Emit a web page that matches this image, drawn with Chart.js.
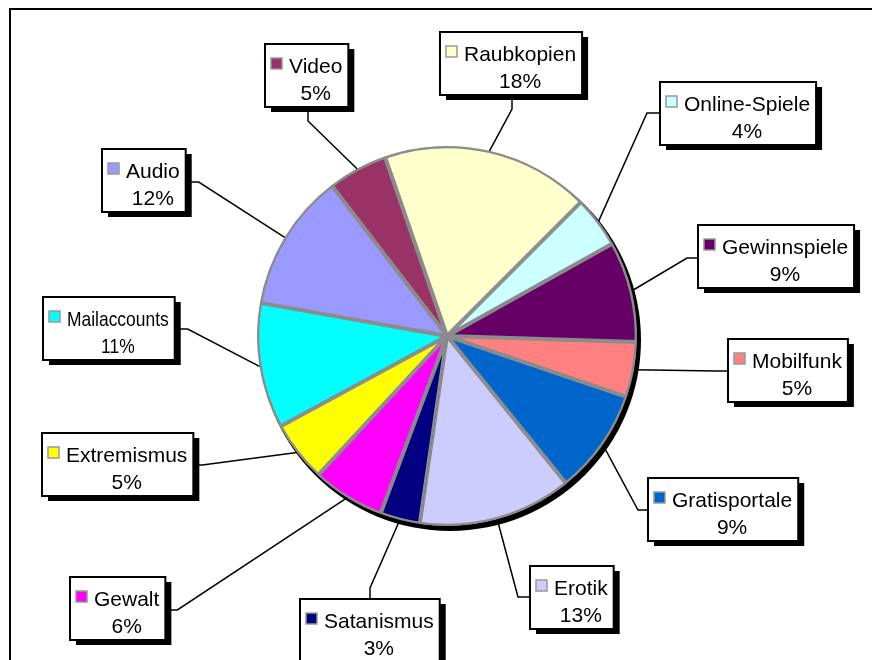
<!DOCTYPE html>
<html>
<head>
<meta charset="utf-8">
<script src="https://cdn.jsdelivr.net/npm/chart.js@4/dist/chart.umd.min.js"></script>
<style>
  html, body { margin: 0; padding: 0; background: #fff; }
  canvas { display: block; }
</style>
</head>
<body>
<canvas id="pie" width="872" height="660"></canvas>
<script>
// categories, clockwise starting at Raubkopien
const categories = ["Raubkopien", "Online-Spiele", "Gewinnspiele", "Mobilfunk", "Gratisportale", "Erotik",
    "Satanismus", "Gewalt", "Extremismus", "Mailaccounts", "Audio", "Video"];
const shares = [17.8, 4.4, 8.6, 4.7, 9.0, 13.1, 3.4, 6.2, 5.2, 10.7, 11.8, 5.1];
const sliceColors = ["#FFFFCC", "#CCFFFF", "#660066", "#FF8080", "#0066CC", "#CCCCFF",
    "#000080", "#FF00FF", "#FFFF00", "#00FFFF", "#9999FF", "#993366"];

// where the callout boxes sit (left, top), which edge the leader leaves from
const calloutLayout = [
    { left: 440, top: 32, side: "bottom", at: 72, elbow: 14 },
    { left: 660, top: 82, side: "left", at: 31, elbow: 13 },
    { left: 698, top: 225, side: "left", at: 33, elbow: 11 },
    { left: 728, top: 339, side: "left", at: 32, elbow: 11 },
    { left: 648, top: 478, side: "left", at: 32, elbow: 10 },
    { left: 530, top: 566, side: "left", at: 31, elbow: 12 },
    { left: 300, top: 599, side: "top", at: 70, elbow: 11 },
    { left: 70, top: 577, side: "right", at: 33, elbow: 12 },
    { left: 42, top: 433, side: "right", at: 32, elbow: 9 },
    { left: 43, top: 297, side: "right", at: 32, elbow: 13, squeeze: 0.83 },
    { left: 102, top: 149, side: "right", at: 33, elbow: 13 },
    { left: 265, top: 44, side: "bottom", at: 43, elbow: 14 }
];

const FONT = "21px 'Liberation Sans', Arial, sans-serif";
const BOX_H = 63;

function boxGeometry(ctx, i) {
    let lay = calloutLayout[i];
    let sq = lay.squeeze || 1;
    ctx.font = FONT;
    let tw = ctx.measureText(categories[i]).width * sq;
    let w = 24 + tw + 6;
    return { x: lay.left, y: lay.top, w: w, h: BOX_H, tw: tw, sq: sq };
}

function anchorPoints(box, lay) {
    if (lay.side === "left") {
        let y = box.y + lay.at;
        return [[box.x, y], [box.x - lay.elbow, y]];
    }
    if (lay.side === "right") {
        let y = box.y + lay.at;
        return [[box.x + box.w, y], [box.x + box.w + lay.elbow, y]];
    }
    if (lay.side === "top") {
        let x = box.x + lay.at;
        return [[x, box.y], [x, box.y - lay.elbow]];
    }
    let x = box.x + lay.at;
    return [[x, box.y + box.h], [x, box.y + box.h + lay.elbow]];
}

const pieShadow = {
    id: "pieShadow",
    beforeDatasetsDraw(chart) {
        let arc = chart.getDatasetMeta(0).data[0];
        if (!arc) return;
        let ctx = chart.ctx;
        ctx.save();
        ctx.fillStyle = "#000";
        ctx.beginPath();
        ctx.arc(arc.x + 3, arc.y + 4, arc.outerRadius + 1, 0, Math.PI * 2);
        ctx.fill();
        ctx.restore();
    }
};

const callouts = {
    id: "callouts",
    afterDraw(chart) {
        let ctx = chart.ctx;
        let meta = chart.getDatasetMeta(0);
        let total = shares.reduce((a, b) => a + b, 0);

        // outer frame
        ctx.save();
        ctx.strokeStyle = "#000";
        ctx.lineWidth = 2;
        ctx.strokeRect(10, 9, 900, 700);

        // leader lines
        ctx.lineWidth = 1.5;
        meta.data.forEach((arc, i) => {
            let mid = (arc.startAngle + arc.endAngle) / 2;
            let px = arc.x + Math.cos(mid) * arc.outerRadius;
            let py = arc.y + Math.sin(mid) * arc.outerRadius;
            let box = boxGeometry(ctx, i);
            let pts = anchorPoints(box, calloutLayout[i]);
            ctx.beginPath();
            ctx.moveTo(px, py);
            ctx.lineTo(pts[1][0], pts[1][1]);
            ctx.lineTo(pts[0][0], pts[0][1]);
            ctx.stroke();
        });

        // boxes
        meta.data.forEach((arc, i) => {
            let box = boxGeometry(ctx, i);
            ctx.fillStyle = "#000";
            ctx.fillRect(box.x + 6, box.y + 5, box.w, box.h);
            ctx.fillStyle = "#fff";
            ctx.fillRect(box.x, box.y, box.w, box.h);
            ctx.strokeStyle = "#000";
            ctx.lineWidth = 2;
            ctx.strokeRect(box.x, box.y, box.w, box.h);

            // legend key
            ctx.fillStyle = sliceColors[i];
            ctx.fillRect(box.x + 6, box.y + 14, 11, 11);
            ctx.strokeStyle = "#999";
            ctx.lineWidth = 1.5;
            ctx.strokeRect(box.x + 6, box.y + 14, 11, 11);

            // texts
            let tx = box.x + 24;
            let pct = Math.round(shares[i] / total * 100) + "%";
            ctx.fillStyle = "#000";
            ctx.font = FONT;
            ctx.textBaseline = "alphabetic";
            ctx.save();
            ctx.translate(tx, box.y + 29);
            ctx.scale(box.sq, 1);
            ctx.textAlign = "left";
            ctx.fillText(categories[i], 0, 0);
            ctx.restore();
            ctx.save();
            ctx.translate(tx + box.tw / 2, box.y + 56);
            ctx.scale(box.sq, 1);
            ctx.textAlign = "center";
            ctx.fillText(pct, 0, 0);
            ctx.restore();
        });
        ctx.restore();
    }
};

const ctx = document.getElementById("pie");
new Chart(ctx, {
    type: "pie",
    data: {
        labels: categories,
        datasets: [{
            data: shares,
            backgroundColor: sliceColors,
            borderColor: "#8c8c8c",
            borderWidth: 2,
            borderAlign: "inner"
        }]
    },
    options: {
        responsive: false,
        animation: false,
        devicePixelRatio: 1,
        rotation: -19.1,
        layout: { padding: { left: 257, right: 235, top: 146, bottom: 134 } },
        plugins: {
            legend: { display: false },
            tooltip: { enabled: false }
        }
    },
    plugins: [pieShadow, callouts]
});
</script>
</body>
</html>
